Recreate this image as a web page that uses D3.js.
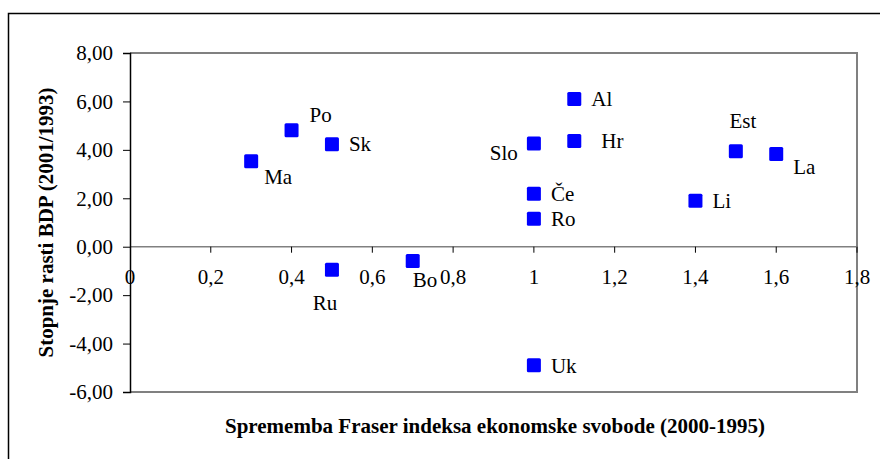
<!DOCTYPE html>
<meta charset="utf-8">
<script src="https://d3js.org/d3.v7.min.js"></script>
<style>
  body { margin: 0; background: #fff; }
</style>
<body>
<div id="chart"></div>
<script>
// data
const countries = ["Ma", "Po", "Sk", "Ru", "Bo", "Uk", "Ro", "Če", "Slo", "Hr", "Al", "Est", "La", "Li"];
const fraserChange = [0.3, 0.4, 0.5, 0.5, 0.7, 1.0, 1.0, 1.0, 1.0, 1.1, 1.1, 1.5, 1.6, 1.4];
const gdpGrowth = [3.53, 4.81, 4.23, -0.95, -0.59, -4.9, 1.15, 2.19, 4.26, 4.37, 6.1, 3.94, 3.83, 1.9];
const xTicks = [0, 0.2, 0.4, 0.6, 0.8, 1, 1.2, 1.4, 1.6, 1.8];
const yTicks = [-6, -4, -2, 0, 2, 4, 6, 8];

// where each label sits relative to its marker
const labelPos = {
  "Ma": [13, 23, "start"], "Po": [18, -8, "start"], "Sk": [17, 7, "start"],
  "Ru": [-7, 40, "middle"], "Bo": [0, 26, "start"], "Uk": [17, 8, "start"],
  "Ro": [17, 7, "start"], "Če": [17, 7, "start"], "Slo": [-16, 16, "end"],
  "Hr": [27, 7, "start"], "Al": [17, 7, "start"], "Est": [7, -23, "middle"],
  "La": [17, 20, "start"], "Li": [17, 7, "start"]
};

const FONT = '"Liberation Serif"';
const W = 880, H = 459;
const margin = {top: 53, right: 23, bottom: 67, left: 130};
const width = W - margin.left - margin.right,
      height = H - margin.top - margin.bottom;

const svg = d3.select("#chart").append("svg")
  .attr("width", W).attr("height", H);

// outer chart frame (only top and left edges fall inside the picture)
svg.append("path")
  .attr("d", `M8.5,${H + 5}V13.5H${W + 5}`)
  .attr("fill", "none").attr("stroke", "#000").attr("stroke-width", 1.5);

const g = svg.append("g").attr("transform", `translate(${margin.left},${margin.top})`);

const x = d3.scaleLinear().domain([0, 1.8]).range([0, width]);
const y = d3.scaleLinear().domain([-6, 8]).range([height, 0]);
const fmtY = d => d.toFixed(2).replace(".", ",");
const fmtX = d => String(d).replace(".", ",");

// plot area border (grey top, right, bottom)
g.append("path")
  .attr("d", `M0,0H${width}V${height}H0`)
  .attr("fill", "none").attr("stroke", "#808080").attr("stroke-width", 2);

// zero line as x axis
g.append("line")
  .attr("x1", 0).attr("x2", width).attr("y1", y(0)).attr("y2", y(0))
  .attr("stroke", "#808080").attr("stroke-width", 1.5);

g.selectAll(".xtick").data(xTicks.slice(1)).join("line")
  .attr("class", "xtick")
  .attr("x1", d => x(d)).attr("x2", d => x(d))
  .attr("y1", y(0)).attr("y2", y(0) + 6)
  .attr("stroke", "#000");

g.selectAll(".xlab").data(xTicks).join("text")
  .attr("class", "xlab")
  .attr("x", d => x(d)).attr("y", y(0) + 37)
  .attr("text-anchor", "middle")
  .style("font-family", FONT).style("font-size", "21px")
  .text(fmtX);

// y axis
const yAxis = g.append("g")
  .call(d3.axisLeft(y).tickValues(yTicks).tickSize(7).tickFormat(fmtY));
yAxis.select(".domain").attr("stroke", "#000").attr("stroke-width", 1.5);
yAxis.selectAll(".tick line").attr("stroke", "#000");
yAxis.selectAll(".tick text")
  .attr("x", -17)
  .attr("fill", "#000")
  .style("font-family", FONT).style("font-size", "21px");

// markers
const pts = countries.map((c, i) => ({name: c, fx: fraserChange[i], gy: gdpGrowth[i]}));

g.selectAll(".pt").data(pts).join("rect")
  .attr("class", "pt")
  .attr("x", d => x(d.fx) - 7).attr("y", d => y(d.gy) - 7)
  .attr("width", 14).attr("height", 14)
  .attr("rx", 1.5)
  .attr("fill", "#0000ff");

g.selectAll(".lab").data(pts).join("text")
  .attr("class", "lab")
  .attr("x", d => x(d.fx) + labelPos[d.name][0])
  .attr("y", d => y(d.gy) + labelPos[d.name][1])
  .attr("text-anchor", d => labelPos[d.name][2])
  .style("font-family", FONT).style("font-size", "21px")
  .text(d => d.name);

// axis titles
svg.append("text")
  .attr("x", 495).attr("y", 433)
  .attr("text-anchor", "middle")
  .style("font-family", FONT).style("font-size", "21px").style("font-weight", "bold")
  .text("Sprememba Fraser indeksa ekonomske svobode (2000-1995)");

svg.append("text")
  .attr("transform", `translate(53,${margin.top + height / 2}) rotate(-90)`)
  .attr("text-anchor", "middle")
  .style("font-family", FONT).style("font-size", "21px").style("font-weight", "bold")
  .text("Stopnje rasti BDP (2001/1993)");
</script>
</body>
